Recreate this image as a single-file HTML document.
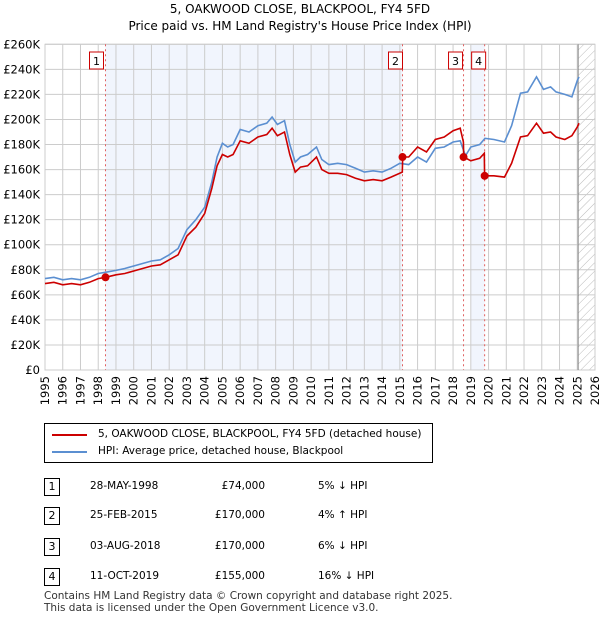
<!DOCTYPE html>
<html><head><meta charset="utf-8"><style>
body{margin:0;background:#fff;font-family:"DejaVu Sans","Liberation Sans",sans-serif;}
.wrap{position:relative;width:600px;height:620px;overflow:hidden}
.t{position:absolute;font-size:11px;color:#000;white-space:nowrap}
</style></head><body><div class="wrap">
<div class="t" style="left:0;width:600px;text-align:center;top:1px;font-size:12px;line-height:17px">5, OAKWOOD CLOSE, BLACKPOOL, FY4 5FD<br>Price paid vs. HM Land Registry's House Price Index (HPI)</div>
<svg id="c" width="600" height="410" style="position:absolute;left:0;top:0;font-family:'DejaVu Sans',sans-serif"></svg>
<div style="position:absolute;left:44px;top:423px;width:387px;height:38px;border:1px solid #000;"></div>
<svg style="position:absolute;left:50px;top:428px" width="40" height="30"><line x1="2" y1="7" x2="37" y2="7" stroke="#cc0000" stroke-width="2"/><line x1="2" y1="24" x2="37" y2="24" stroke="#5b8fd1" stroke-width="2"/></svg>
<div class="t" style="left:98px;top:428px;font-size:10.5px">5, OAKWOOD CLOSE, BLACKPOOL, FY4 5FD (detached house)</div>
<div class="t" style="left:98px;top:445px;font-size:10.5px">HPI: Average price, detached house, Blackpool</div>
<div id="tbl"></div>
<div class="t" style="left:44px;top:590px;font-size:10.5px;color:#333;line-height:12px">Contains HM Land Registry data © Crown copyright and database right 2025.<br>This data is licensed under the Open Government Licence v3.0.</div>
</div>
<script>
const hpiYears=[1995,1995.5,1996,1996.5,1997,1997.5,1998,1998.4,1999,1999.5,2000,2000.5,2001,2001.5,2002,2002.5,2003,2003.5,2004,2004.4,2004.7,2005,2005.3,2005.6,2006,2006.5,2007,2007.5,2007.8,2008.1,2008.5,2008.8,2009.1,2009.4,2009.8,2010.3,2010.6,2011,2011.5,2012,2012.5,2013,2013.5,2014,2014.5,2015,2015.5,2016,2016.5,2017,2017.5,2018,2018.4,2018.7,2019,2019.5,2019.8,2020.3,2020.9,2021.3,2021.8,2022.2,2022.7,2023.1,2023.5,2023.8,2024.3,2024.7,2025,2025.1];
const hpiValues=[73,74,72,73,72,74,77,78,79.5,81,83,85,87,88,92,97,112,120,130,150,170,181,178,180,192,190,195,197,202,196,199,180,166,170,172,178,168,164,165,164,161,158,159,158,161,165,164,170,166,177,178,182,183,171,178,180,185,184,182,195,221,222,234,224,226,222,220,218,231,234];
const redYears=[1995,1995.5,1996,1996.5,1997,1997.5,1998,1998.41,1999,1999.5,2000,2000.5,2001,2001.5,2002,2002.5,2003,2003.5,2004,2004.4,2004.7,2005,2005.3,2005.6,2006,2006.5,2007,2007.5,2007.8,2008.1,2008.5,2008.8,2009.1,2009.4,2009.8,2010.3,2010.6,2011,2011.5,2012,2012.5,2013,2013.5,2014,2014.5,2015.14,2015.16,2015.5,2016,2016.5,2017,2017.5,2018,2018.4,2018.58,2018.6,2019,2019.5,2019.76,2019.78,2020.3,2020.9,2021.3,2021.8,2022.2,2022.7,2023.1,2023.5,2023.8,2024.3,2024.7,2025,2025.1];
const redValues=[69,70,68,69,68,70,73,74,76,77,79,81,83,84,88,92,107,114,125,145,163,172,170,172,183,181,186,188,193,187,190,172,158,162,163,170,160,157,157,156,153,151,152,151,154,158,170,170,178,174,184,186,191,193,182,170,167,169,173,155,155,154,165,186,187,197,189,190,186,184,187,194,197];
const yTicks=[0,20,40,60,80,100,120,140,160,180,200,220,240,260];
const xTicks=[1995,1996,1997,1998,1999,2000,2001,2002,2003,2004,2005,2006,2007,2008,2009,2010,2011,2012,2013,2014,2015,2016,2017,2018,2019,2020,2021,2022,2023,2024,2025,2026];
const saleYears=[1998.41,2015.15,2018.59,2019.78];
const salePrices=[74,170,170,155];
const saleLabels=["1","2","3","4"];
const saleDates=["28-MAY-1998","25-FEB-2015","03-AUG-2018","11-OCT-2019"];
const salePriceText=["£74,000","£170,000","£170,000","£155,000"];
const saleHpiText=["5% ↓ HPI","4% ↑ HPI","6% ↓ HPI","16% ↓ HPI"];

const X0=45,X1=595,Y0=370,Y1=44.3;
const sx=y=>X0+(y-1995)/(2026-1995)*(X1-X0);
const sy=v=>Y0-v/260*(Y0-Y1);
const svg=document.getElementById('c');const NS='http://www.w3.org/2000/svg';
function mk(t,a,p){const e=document.createElementNS(NS,t);for(const k in a)e.setAttribute(k,a[k]);(p||svg).appendChild(e);return e;}
const bands=[[saleYears[0],saleYears[1]],[2019.0,saleYears[3]]];
bands.forEach(b=>{const r=mk('rect',{x:sx(b[0]),y:Y1,width:sx(b[1])-sx(b[0]),height:Y0-Y1,fill:'#eef3fc',opacity:0.8});

});
const defs=mk('defs',{});const pat=mk('pattern',{id:'h',width:6,height:6,patternUnits:'userSpaceOnUse',patternTransform:'rotate(45)'},defs);
mk('line',{x1:0,y1:0,x2:0,y2:6,stroke:'#bbb','stroke-width':1},pat);
const hr=mk('rect',{x:sx(2025.05),y:Y1,width:X1-sx(2025.05),height:Y0-Y1,fill:'url(#h)'});


yTicks.forEach(v=>{mk('line',{x1:X0,x2:X1,y1:sy(v),y2:sy(v),stroke:'#ccc'});
const t=mk('text',{x:40,y:sy(v)+4,'text-anchor':'end','font-size':11.5,fill:'#000'});t.textContent=v==0?'£0':'£'+v+'K';

});
xTicks.forEach(y=>{mk('line',{x1:sx(y),x2:sx(y),y1:Y1,y2:Y0,stroke:'#ccc'});
const t=mk('text',{x:0,y:0,'text-anchor':'end','font-size':11.5,fill:'#000',transform:`translate(${(sx(y)+4).toFixed(1)},376) rotate(-90)`});t.textContent=y;

});
mk('rect',{x:X0,y:Y1,width:X1-X0,height:Y0-Y1,fill:'none',stroke:'#ccc'});
mk('line',{x1:sx(2025.05),x2:sx(2025.05),y1:Y1,y2:Y0,stroke:'#888','stroke-width':1});
saleYears.forEach((y,i)=>{mk('line',{x1:sx(y),x2:sx(y),y1:Y1,y2:Y0,stroke:'#e06060','stroke-dasharray':'2,3'});
const r=mk('rect',{x:0,y:52,width:14,height:17,fill:'#fff',stroke:'#cc0000'});
r.setAttribute('x',i==3?sx(y)-13:sx(y)-16+(i==1?2:0)+(i==2?1:0));


const t=mk('text',{x:+r.getAttribute('x')+7,y:65,'text-anchor':'middle','font-size':11});t.textContent=saleLabels[i];});
function line(xs,vs,c,n){const p=mk('path',{d:xs.map((x,i)=>(i?'L':'M')+sx(x).toFixed(1)+' '+sy(vs[i]).toFixed(1)).join(''),fill:'none',stroke:c,'stroke-width':1.6});

}
line(hpiYears,hpiValues,'#5b8fd1','hpi-line');
line(redYears,redValues,'#cc0000','price-paid-line');
saleYears.forEach((y,i)=>{const c=mk('circle',{cx:sx(y),cy:sy(salePrices[i]),r:4,fill:'#cc0000'});

});
const tbl=document.getElementById('tbl');const tops=[478,507,538,568];
saleLabels.forEach((l,i)=>{const row=document.createElement('div');


row.innerHTML=`<div class="t" style="left:44px;top:${tops[i]}px;width:14px;height:16px;border:1px solid #000;text-align:center;font-size:11px;line-height:16px">${l}</div>
<div class="t" style="left:90px;top:${tops[i]+2}px;font-size:10.5px">${saleDates[i]}</div>
<div class="t" style="left:180px;width:85px;text-align:right;top:${tops[i]+2}px;font-size:10.5px">${salePriceText[i]}</div>
<div class="t" style="left:318px;top:${tops[i]+2}px;font-size:10.5px">${saleHpiText[i]}</div>`;
tbl.appendChild(row);});
</script></body></html>
